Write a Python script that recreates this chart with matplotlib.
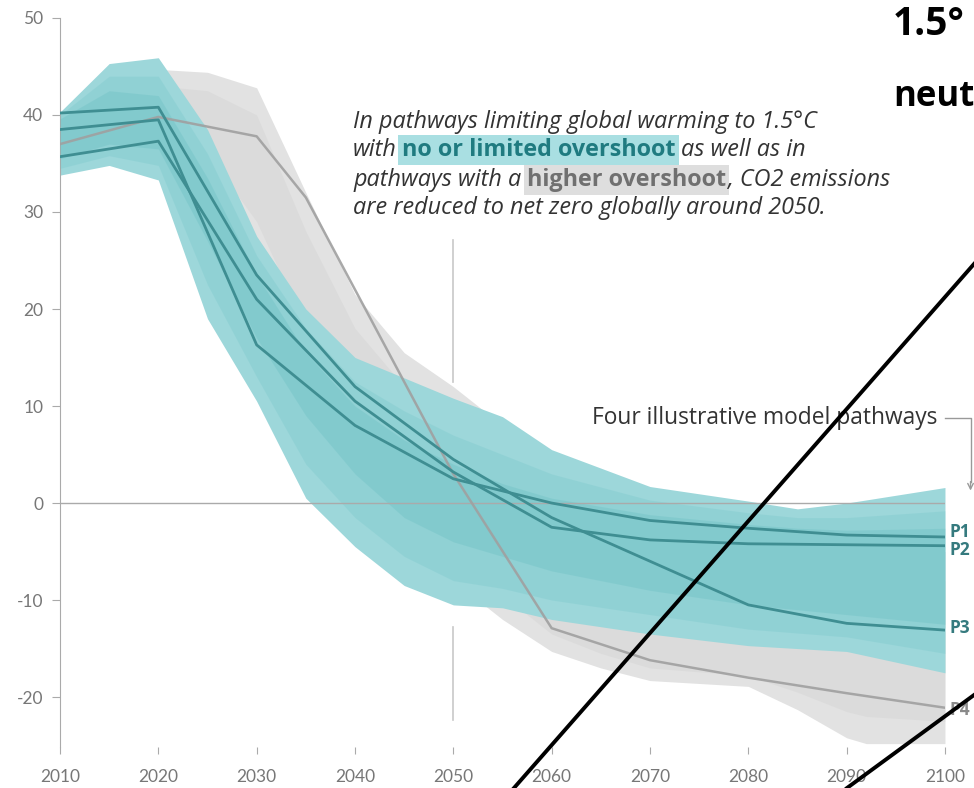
import matplotlib
matplotlib.use("Agg")
import matplotlib.pyplot as plt
from matplotlib.lines import Line2D

plt.rcParams['font.family'] = ['Lato', 'DejaVu Sans']
plt.rcParams['axes.unicode_minus'] = False

# illustrative pathways (GtCO2/yr)
years_p = [2010, 2020, 2030, 2040, 2050, 2060, 2070, 2080, 2090, 2100]
p1 = [38.5, 39.5, 16.3, 8.0, 2.5, 0.0, -1.8, -2.6, -3.3, -3.5]
p2 = [35.7, 37.3, 21.0, 10.5, 3.2, -2.5, -3.8, -4.2, -4.3, -4.4]
p3 = [40.2, 40.8, 23.5, 12.0, 4.5, -1.5, -6.0, -10.5, -12.4, -13.1]
years_p4 = [2010, 2020, 2030, 2035, 2040, 2050, 2060, 2070, 2080, 2090, 2100]
p4 = [37.0, 39.8, 37.8, 31.5, 22.0, 3.0, -12.9, -16.2, -18.0, -19.6, -21.1]

# no or limited overshoot range (teal)
years_t = [2010, 2015, 2020, 2025, 2030, 2035, 2040, 2045, 2050, 2055, 2060, 2070, 2080, 2085, 2090, 2100]
teal_hi = [40.3, 45.3, 45.9, 38.5, 27.5, 20.0, 15.0, 12.9, 10.8, 8.9, 5.5, 1.7, 0.2, -0.6, 0.0, 1.6]
teal_lo = [33.8, 34.8, 33.3, 19.0, 10.5, 0.5, -4.5, -8.5, -10.5, -10.8, -12.0, -13.5, -14.7, -15.0, -15.3, -17.5]
teal_q_hi = [40.0, 44.0, 44.0, 36.0, 25.5, 18.0, 12.5, 9.5, 7.0, 5.0, 3.0, 0.3, -1.0, -1.5, -1.5, -0.8]
teal_q_lo = [34.5, 35.8, 34.8, 22.5, 13.0, 4.0, -1.5, -5.5, -8.0, -8.8, -10.0, -11.5, -13.0, -13.4, -13.8, -15.5]
teal_mid_hi = [39.6, 42.5, 42.0, 33.5, 23.5, 15.5, 10.0, 6.5, 4.0, 2.0, 0.5, -1.2, -2.2, -2.6, -2.8, -2.6]
teal_mid_lo = [35.5, 37.0, 36.5, 27.0, 17.0, 9.0, 3.0, -1.5, -4.0, -5.5, -7.0, -9.0, -10.5, -11.0, -11.5, -12.5]

# higher overshoot range (grey)
years_g = [2020, 2025, 2030, 2035, 2040, 2045, 2050, 2055, 2060, 2065, 2070, 2080, 2085, 2090, 2092, 2100]
grey_hi = [44.7, 44.4, 42.8, 32.0, 21.5, 15.5, 12.0, 8.0, 4.0, 2.0, 0.0, -2.0, -3.0, -4.0, -4.5, -5.0]
grey_lo = [38.0, 33.0, 25.0, 14.0, 6.0, -2.0, -8.0, -12.0, -15.3, -17.0, -18.3, -18.9, -21.3, -24.2, -24.8, -24.8]
grey_mid_hi = [43.0, 42.5, 40.0, 28.0, 18.0, 12.0, 8.0, 4.0, 1.0, -1.0, -3.0, -5.0, -6.0, -7.0, -7.5, -8.0]
grey_mid_lo = [39.0, 36.0, 29.0, 18.0, 9.0, 1.0, -5.0, -9.5, -13.5, -15.5, -17.0, -17.8, -19.5, -21.5, -22.0, -22.5]

x_ticks = [2010, 2020, 2030, 2040, 2050, 2060, 2070, 2080, 2090, 2100]
y_ticks = [-20, -10, 0, 10, 20, 30, 40, 50]
path_labels = ['P1', 'P2', 'P3', 'P4']
label_y = [-3.0, -4.8, -12.9, -21.3]

TEAL_LINE = '#3f8e92'
GREY_LINE = '#a0a0a0'
AXIS = '#aaaaaa'
ANNO_FONT = ['Open Sans', 'DejaVu Sans']

fig = plt.figure(figsize=(9.74, 7.88), dpi=100)
ax = fig.add_axes([0.0616, 0.052, 0.9086, 0.9252])
ax.set_xlim(2010, 2100)
ax.set_ylim(-25.15, 50)

ax.fill_between(years_g, grey_lo, grey_hi, color='#e2e2e2', lw=0, zorder=1)
ax.fill_between(years_g, grey_mid_lo, grey_mid_hi, color='#cfcfcf', alpha=0.35, lw=0, zorder=1)
ax.fill_between(years_t, teal_lo, teal_hi, color='#9dd7da', lw=0, zorder=2)
ax.fill_between(years_t, teal_q_lo, teal_q_hi, color='#6cc2c6', alpha=0.25, lw=0, zorder=3)
ax.fill_between(years_t, teal_mid_lo, teal_mid_hi, color='#5cb8bc', alpha=0.25, lw=0, zorder=3)

ax.plot([2010, 2100], [0, 0], color=AXIS, lw=1, zorder=4)
ax.plot([2050, 2050], [27.1, 12.5], color='#c8c8c8', lw=1.2, zorder=0)
ax.plot([2050, 2050], [-12.8, -22.4], color='#c8c8c8', lw=1.2, zorder=0)

ax.plot(years_p4, p4, color=GREY_LINE, lw=1.8, alpha=0.9, zorder=5)
for p in (p1, p2, p3):
    ax.plot(years_p, p, color=TEAL_LINE, lw=2, zorder=6)

label_colors = ['#357a7e', '#357a7e', '#357a7e', '#8a8a8a']
for lab, yy, c in zip(path_labels, label_y, label_colors):
    ax.text(2100.5, yy, lab, color=c, fontsize=12.5, fontweight='bold',
            family=ANNO_FONT, va='center', ha='left', clip_on=False)

# axes styling
for s in ['top', 'right', 'bottom']:
    ax.spines[s].set_visible(False)
ax.spines['left'].set_color(AXIS)
ax.set_xticks(x_ticks)
ax.set_yticks(y_ticks)
ax.tick_params(axis='x', length=5, color=AXIS, labelcolor='#777777', labelsize=12.5, pad=11)
ax.tick_params(axis='y', length=6, color=AXIS, labelcolor='#777777', labelsize=12.5, pad=6)

# annotation text with highlighted words
TXT = '#333333'
fs = 16.8
it = dict(fontsize=fs, style='italic', color=TXT, family=ANNO_FONT)
bold = dict(fontsize=fs, fontweight='bold', family=ANNO_FONT)
x0 = 2039.8
ax.text(x0, 39.3, 'In pathways limiting global warming to 1.5°C', va='center', **it)

t = ax.text(x0, 36.4, 'with', va='center', **it)
t = ax.annotate('no or limited overshoot', xy=(1, 0), xycoords=t, xytext=(3.5, 0),
                textcoords='offset points', va='bottom', color='#1f7b80',
                bbox=dict(boxstyle='square,pad=0.14', fc='#a9dfe2', ec='none'), **bold)
ax.annotate('as well as in', xy=(1, 0), xycoords=t, xytext=(4, 0),
            textcoords='offset points', va='bottom', **it)

t = ax.text(x0, 33.3, 'pathways with a', va='center', **it)
t = ax.annotate('higher overshoot', xy=(1, 0), xycoords=t, xytext=(4, 0),
                textcoords='offset points', va='bottom', color='#707070',
                bbox=dict(boxstyle='square,pad=0.14', fc='#dedede', ec='none'), **bold)
ax.annotate(', CO2 emissions', xy=(1, 0), xycoords=t, xytext=(1.5, 0),
            textcoords='offset points', va='bottom', **it)

ax.text(x0, 30.4, 'are reduced to net zero globally around 2050.', va='center', **it)

# four illustrative pathways pointer
ax.text(2064.1, 8.75, 'Four illustrative model pathways', fontsize=16.4, color='#333333',
        family=ANNO_FONT, va='center', ha='left')
ax.plot([2100.0, 2102.6, 2102.6], [8.75, 8.75, 2.2], color='#999999', lw=1, clip_on=False)
ax.annotate('', xy=(2102.6, 1.0), xytext=(2102.6, 2.5),
            arrowprops=dict(arrowstyle='->', color='#999999', lw=1), annotation_clip=False)

# clipped title fragments
fig.text(0.917, 0.9556, '1.5°', fontsize=28, fontweight='bold', color='black',
         family=ANNO_FONT, va='baseline')
fig.text(0.917, 0.866, 'neut', fontsize=25, fontweight='bold', color='black',
         family=ANNO_FONT, va='baseline')

# black overlay strokes
fig.add_artist(Line2D([0.5277, 1.0], [0.0, 0.665], color='black', lw=2.8))
fig.add_artist(Line2D([0.8696, 1.0], [0.0, 0.118], color='black', lw=2.8))

fig.savefig('out.png', dpi=100)
